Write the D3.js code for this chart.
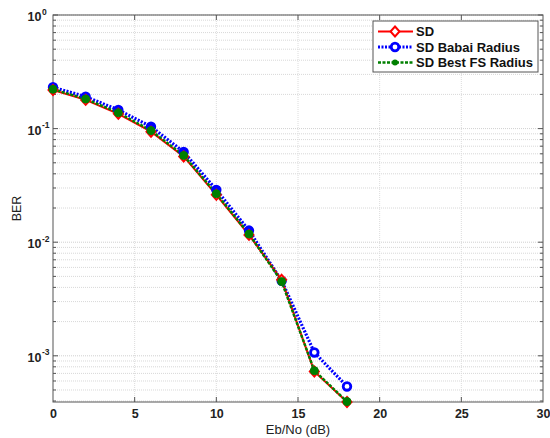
<!DOCTYPE html>
<html><head><meta charset="utf-8">
<script src="https://cdn.jsdelivr.net/npm/d3@7"></script>
<style>body{margin:0;background:#fff}svg{display:block}</style>
</head><body>
<svg id="chart" width="550" height="438"></svg>
<script>
const ebno = [0, 2, 4, 6, 8, 10, 12, 14, 16, 18];
const berSD = [0.219, 0.179, 0.135, 0.094, 0.0569, 0.0261, 0.0116, 0.00466, 0.000728, 0.000392];
const berBabai = [0.231, 0.191, 0.146, 0.104, 0.0623, 0.0289, 0.01266, 0.00457, 0.00107, 0.000537];
const berBestFS = [0.222, 0.182, 0.138, 0.096, 0.058, 0.0267, 0.0118, 0.0045, 0.00074, 0.000395];
const seriesNames = ["SD", "SD Babai Radius", "SD Best FS Radius"];
const xTicks = [0, 5, 10, 15, 20, 25, 30];
const yDecades = [0, -1, -2, -3];

const FONT = "Liberation Sans, Arial, sans-serif";
const svg = d3.select("#chart");
const m = {l: 53, r: 543, t: 15, b: 402};
const x = d3.scaleLinear().domain([0, 30]).range([m.l, m.r]);
const yMin = d3.min([...berSD, ...berBabai, ...berBestFS]);
const y = d3.scaleLog().domain([yMin, 1]).range([m.b, m.t]);

// grid
const g = svg.append("g");
const minorVals = [];
for (let e = -4; e < 0; e++) for (let k = 2; k <= 9; k++) { const v = k * Math.pow(10, e); if (v >= yMin && v <= 1) minorVals.push(v); }
g.selectAll(".ymin").data(minorVals).enter().append("line")
  .attr("x1", m.l).attr("x2", m.r).attr("y1", d => y(d)).attr("y2", d => y(d))
  .attr("stroke", "#d8d8d8").attr("stroke-width", 1).attr("stroke-dasharray", "1,1");
g.selectAll(".ymaj").data(yDecades).enter().append("line")
  .attr("x1", m.l).attr("x2", m.r).attr("y1", d => y(Math.pow(10, d))).attr("y2", d => y(Math.pow(10, d)))
  .attr("stroke", "#d0d0d0").attr("stroke-width", 1).attr("stroke-dasharray", "1,1");
g.selectAll(".xg").data(xTicks.slice(1, -1)).enter().append("line")
  .attr("x1", d => x(d)).attr("x2", d => x(d)).attr("y1", m.t).attr("y2", m.b)
  .attr("stroke", "#dcdcdc").attr("stroke-width", 1).attr("stroke-dasharray", "1,1");

// frame
svg.append("rect").attr("x", m.l).attr("y", m.t).attr("width", m.r - m.l).attr("height", m.b - m.t)
  .attr("fill", "none").attr("stroke", "#555").attr("stroke-width", 1);

// x axis labels
const xAxis = d3.axisBottom(x).tickValues(xTicks).tickSize(0).tickPadding(0).tickFormat(d3.format("d"));
const xa = svg.append("g").attr("transform", `translate(0,${m.b})`).call(xAxis);
xa.select(".domain").remove();
xa.selectAll("text").attr("y", 16).attr("dy", 0).attr("font-family", FONT)
  .attr("font-weight", "bold").attr("font-size", 12.5).attr("fill", "#222");
// x tick marks bottom and top
svg.selectAll(".xt").data(xTicks.slice(1, -1)).enter().append("g").each(function(d){
  const s = d3.select(this);
  s.append("line").attr("x1", x(d)).attr("x2", x(d)).attr("y1", m.b).attr("y2", m.b - 5).attr("stroke", "#555");
  s.append("line").attr("x1", x(d)).attr("x2", x(d)).attr("y1", m.t).attr("y2", m.t + 5).attr("stroke", "#555");
});
// y ticks
const yAllTicks = minorVals.map(v => ({v, len: 3})).concat(yDecades.map(e => ({v: Math.pow(10, e), len: 5})));
svg.selectAll(".yt").data(yAllTicks).enter().append("g").each(function(d){
  const s = d3.select(this);
  s.append("line").attr("x1", m.l).attr("x2", m.l + d.len).attr("y1", y(d.v)).attr("y2", y(d.v)).attr("stroke", "#555");
  s.append("line").attr("x1", m.r).attr("x2", m.r - d.len).attr("y1", y(d.v)).attr("y2", y(d.v)).attr("stroke", "#555");
});
const ya = svg.append("g");
yDecades.forEach(e => {
  ya.append("text").attr("x", 41.5).attr("y", y(Math.pow(10, e)) + 6)
    .attr("text-anchor", "end").attr("font-family", FONT)
    .attr("font-weight", "bold").attr("font-size", 12.5).attr("fill", "#222").text("10");
  ya.append("text").attr("x", 42).attr("y", y(Math.pow(10, e)) - 0.5)
    .attr("font-family", FONT)
    .attr("font-weight", "bold").attr("font-size", 8.5).attr("fill", "#222").text(String(e));
});

// axis titles
svg.append("text").attr("x", (m.l + m.r) / 2).attr("y", 434).attr("text-anchor", "middle")
  .attr("font-family", FONT).attr("font-size", 13).attr("fill", "#222").text("Eb/No (dB)");
svg.append("text").attr("transform", `translate(21,${(m.t + m.b) / 2}) rotate(-90)`).attr("text-anchor", "middle")
  .attr("font-family", FONT).attr("font-size", 12.5).attr("fill", "#222").text("BER");

// series
const plot = svg.append("g");
const line = d3.line().x(d => x(d[0])).y(d => y(d[1]));
const dSD = ebno.map((v, i) => [v, berSD[i]]);
const dBab = ebno.map((v, i) => [v, berBabai[i]]);
const dFS = ebno.map((v, i) => [v, berBestFS[i]]);
const diamondPath = "M0,-5L4.5,0L0,5L-4.5,0Z";

plot.append("path").datum(dBab).attr("d", line).attr("fill", "none").attr("stroke", "#0000ff")
  .attr("stroke-width", 3.2).attr("stroke-dasharray", "2,1.5");
plot.append("path").datum(dSD).attr("d", line).attr("fill", "none").attr("stroke", "#ff0000").attr("stroke-width", 2);
plot.append("path").datum(dFS).attr("d", line).attr("fill", "none").attr("stroke", "#008000")
  .attr("stroke-width", 2.5).attr("stroke-dasharray", "3,1.5");

// blue markers: where the curves overlap, the marker interior is covered by the lines
plot.selectAll(".mb").data(dBab).enter().append("circle").attr("cx", d => x(d[0])).attr("cy", d => y(d[1]))
  .attr("r", 3.8).attr("stroke", "#0000ff").attr("stroke-width", 2.8)
  .attr("fill", (d, i) => Math.abs(y(d[1]) - y(dFS[i][1])) < 8 ? "#0000ff" : "#fff");
plot.selectAll(".ms").data(dSD).enter().append("path").attr("d", diamondPath)
  .attr("transform", d => `translate(${x(d[0])},${y(d[1])})`).attr("fill", "#fff").attr("stroke", "#ff0000").attr("stroke-width", 2);
plot.selectAll(".mf").data(dFS).enter().append("circle").attr("cx", d => x(d[0])).attr("cy", d => y(d[1]))
  .attr("r", 4).attr("fill", "#008000").attr("stroke", "#008000").attr("stroke-width", 1);

// legend
const lg = svg.append("g");
lg.append("rect").attr("x", 373).attr("y", 21).attr("width", 165).attr("height", 51)
  .attr("fill", "#fff").attr("stroke", "#555").attr("stroke-width", 1);
const rows = [31.5, 47, 62.5];
const styles = [
  {c: "#ff0000", dash: null, w: 2},
  {c: "#0000ff", dash: "2,1.5", w: 3.2},
  {c: "#008000", dash: "3,1.5", w: 2.5}
];
seriesNames.forEach((name, i) => {
  const yy = rows[i], st = styles[i];
  const l = lg.append("line").attr("x1", 378).attr("x2", 413).attr("y1", yy).attr("y2", yy)
    .attr("stroke", st.c).attr("stroke-width", st.w);
  if (st.dash) l.attr("stroke-dasharray", st.dash);
  if (i === 0) lg.append("path").attr("d", diamondPath).attr("transform", `translate(395,${yy})`)
    .attr("fill", "#fff").attr("stroke", st.c).attr("stroke-width", 2);
  if (i === 1) lg.append("circle").attr("cx", 395).attr("cy", yy).attr("r", 3.8)
    .attr("fill", "#fff").attr("stroke", st.c).attr("stroke-width", 2.8);
  if (i === 2) lg.append("circle").attr("cx", 395).attr("cy", yy).attr("r", 3).attr("fill", st.c);
  lg.append("text").attr("x", 416).attr("y", yy + 4.5).attr("font-family", FONT)
    .attr("font-weight", "bold").attr("font-size", 13).attr("fill", "#111").text(name);
});
</script>
</body></html>
